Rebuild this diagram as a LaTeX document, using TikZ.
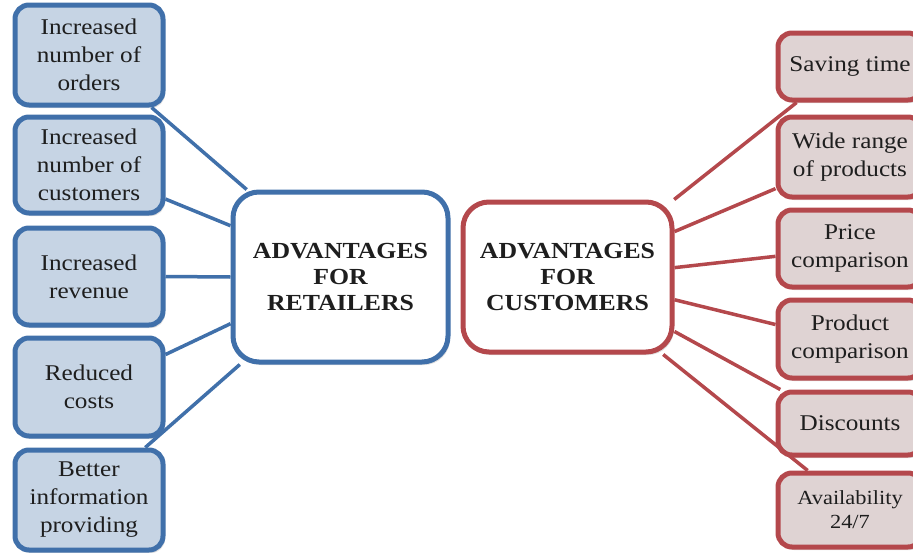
\documentclass[tikz,border=0pt]{standalone}
\usepackage{fontspec}
\setmainfont{Liberation Serif}[FakeStretch=1.12]
\usetikzlibrary{shadows}

\definecolor{retline}{RGB}{64,112,170}
\definecolor{retfill}{RGB}{198,212,228}
\definecolor{custline}{RGB}{180,72,76}
\definecolor{custfill}{RGB}{223,211,211}
\definecolor{ink}{RGB}{30,30,30}

\begin{document}
\begin{tikzpicture}[
    x = 1pt, y = -1pt,
    line join=round,
    boxbase/.style = {rectangle, line width=5pt, align=center, text=ink,
        font=\fontsize{22.5}{28}\selectfont, inner sep=0pt,
        drop shadow={opacity=0.25, shadow xshift=2pt, shadow yshift=-3pt}},
    retbox/.style = {boxbase, draw=retline, fill=retfill, rounded corners=14pt,
        minimum width=148pt},
    custbox/.style = {boxbase, draw=custline, fill=custfill, rounded corners=14pt,
        minimum width=144pt},
    hubbox/.style = {boxbase, fill=white, rounded corners=26pt,
        font=\bfseries\fontsize{23}{26}\selectfont},
    retlink/.style = {retline, line width=3.5pt},
    custlink/.style = {custline, line width=3.5pt}
]

    \useasboundingbox (0,0) rectangle (913,552);

    % retailers
    \node[hubbox, draw=retline, minimum width=215pt, minimum height=170pt] (ret) at (340.5,277) {ADVANTAGES\\FOR\\RETAILERS};

    \node[retbox, minimum height=100pt] (ord) at (89,55) {Increased\\number of\\orders};
    \node[retbox, minimum height=96pt] (cust) at (89,165) {Increased\\number of\\customers};
    \node[retbox, minimum height=97pt] (rev) at (89,276.5) {Increased\\revenue};
    \node[retbox, minimum height=98pt] (cost) at (89,387) {Reduced\\costs};
    \node[retbox, minimum height=100pt] (info) at (89,500) {Better\\information\\providing};

    \draw[retlink] (ord.-40) -- (ret.137);
    \draw[retlink] (cust.-24) -- (ret.155);
    \draw[retlink] (rev.east) -- (ret.west);
    \draw[retlink] (cost.23) -- (ret.203);
    \draw[retlink] (info.43) -- (ret.221);

    % customers
    \node[hubbox, draw=custline, minimum width=209pt, minimum height=150pt] (custc) at (567.5,277) {ADVANTAGES\\FOR\\CUSTOMERS};

    \node[custbox, minimum height=67pt] (time) at (850,66.5) {Saving time};
    \node[custbox, minimum height=80pt] (range) at (850,157) {Wide range\\of products};
    \node[custbox, minimum height=77pt] (price) at (850,248.5) {Price\\comparison};
    \node[custbox, minimum height=78pt] (prod) at (850,339) {Product\\comparison};
    \node[custbox, minimum height=63pt] (disc) at (850,423.5) {Discounts};
    \node[custbox, minimum height=74pt, font=\fontsize{20}{24}\selectfont] (avail) at (850,510) {Availability\\24/7};

    \draw[custlink] (custc.36) -- (time.214);
    \draw[custlink] (custc.23) -- (range.203);
    \draw[custlink] (custc.5) -- (price.186);
    \draw[custlink] (custc.-12) -- (prod.169);
    \draw[custlink] (custc.-27) -- (disc.154);
    \draw[custlink] (custc.-39) -- (avail.137);

\end{tikzpicture}
\end{document}
